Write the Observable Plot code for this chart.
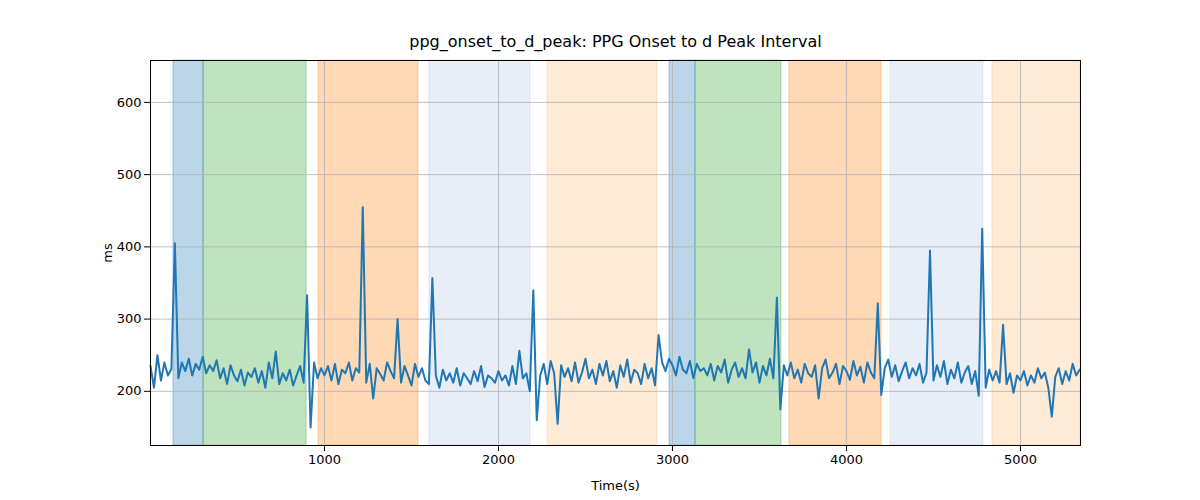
<!DOCTYPE html>
<html>
<head>
<meta charset="utf-8">
<script src="https://cdn.jsdelivr.net/npm/d3@7"></script>
<script src="https://cdn.jsdelivr.net/npm/@observablehq/plot@0.6"></script>
<style>
  body { margin: 0; background: #fff; }
  svg { font-family: "DejaVu Sans", sans-serif; }
</style>
</head>
<body>
<div id="chart"></div>
<script>
const title = "ppg_onset_to_d_peak: PPG Onset to d Peak Interval";
const dt = 20; // seconds between samples

const values = [
  235,205,250,215,240,222,231,405,218,240,
  228,245,222,238,230,248,225,236,228,243,
  218,232,210,236,222,214,230,208,226,220,
  232,212,228,205,240,218,255,210,225,215,
  230,208,222,235,212,333,150,240,218,232,
  222,235,215,238,210,230,225,240,215,232,
  226,455,212,238,190,232,224,215,240,228,
  218,300,212,235,222,208,238,220,232,215,
  210,357,222,205,230,215,225,212,232,208,
  225,218,210,228,214,235,206,222,218,212,
  228,215,222,208,235,210,256,218,225,200,
  340,160,222,238,210,242,225,155,236,220,
  232,214,240,212,226,245,218,230,210,238,
  222,242,214,228,205,236,220,244,212,230,
  225,210,238,218,232,208,278,240,228,245,
  236,222,248,230,225,242,218,238,228,232,
  222,238,215,235,226,244,212,230,240,220,
  232,218,258,226,240,212,235,222,245,218,
  330,175,236,222,240,218,230,212,238,225,
  220,236,190,232,244,218,226,238,210,235,
  228,216,242,222,234,212,240,226,218,322,
  195,232,244,220,236,214,228,240,218,232,
  222,238,212,226,395,215,236,220,242,210,
  230,218,240,212,226,235,210,228,194,425,
  205,230,215,228,212,292,210,225,198,222,
  215,228,208,222,212,232,218,226,205,165,
  220,232,210,228,215,238,222,230
];

const bandStart = [132, 305, 966, 1603, 2282, 2983, 3132, 3672, 4253, 4839];
const bandEnd   = [305, 897, 1540, 2184, 2914, 3132, 3626, 4201, 4787, 5345];
const bandColor = ["#1f77b4","#2ca02c","#ff7f0e","#aec7e8","#ffbb78",
                   "#1f77b4","#2ca02c","#ff7f0e","#aec7e8","#ffbb78"];
const bandOpacity = [0.3,0.3,0.3,0.3,0.3,0.3,0.3,0.3,0.3,0.3];

const series = values.map((v, i) => ({t: i * dt, v}));
const bands = bandStart.map((s, i) => ({s, e: bandEnd[i], c: bandColor[i], o: bandOpacity[i]}));

const chart = Plot.plot({
  width: 1200,
  height: 500,
  marginTop: 60,
  marginBottom: 55,
  marginLeft: 150,
  marginRight: 120,
  style: {fontSize: "13px", fontFamily: "DejaVu Sans, sans-serif", color: "#000"},
  x: {domain: [0, 5345], ticks: [1000,2000,3000,4000,5000], tickFormat: d => String(d),
      label: "Time(s)", labelAnchor: "center", labelArrow: "none", labelOffset: 44, grid: false},
  y: {domain: [125, 658], ticks: [200,300,400,500,600], tickFormat: d => String(d),
      label: "ms", labelAnchor: "center", labelArrow: "none", labelOffset: 48},
  marks: [
    Plot.rectX(bands, {x1: "s", x2: "e", fill: "c", fillOpacity: "o", stroke: "c", strokeOpacity: 0.35}),
    Plot.gridX([1000,2000,3000,4000,5000], {stroke: "#b0b0b0", strokeOpacity: 1, strokeWidth: 0.8}),
    Plot.gridY([200,300,400,500,600], {stroke: "#b0b0b0", strokeOpacity: 1, strokeWidth: 0.8}),
    Plot.line(series, {x: "t", y: "v", stroke: "#1f77b4", strokeWidth: 2}),
    Plot.frame({stroke: "#000"}),
    Plot.text([title], {frameAnchor: "top", dy: -14, lineAnchor: "bottom", fontSize: 16, fill: "#000"})
  ]
});

document.getElementById("chart").appendChild(chart);
</script>
</body>
</html>
